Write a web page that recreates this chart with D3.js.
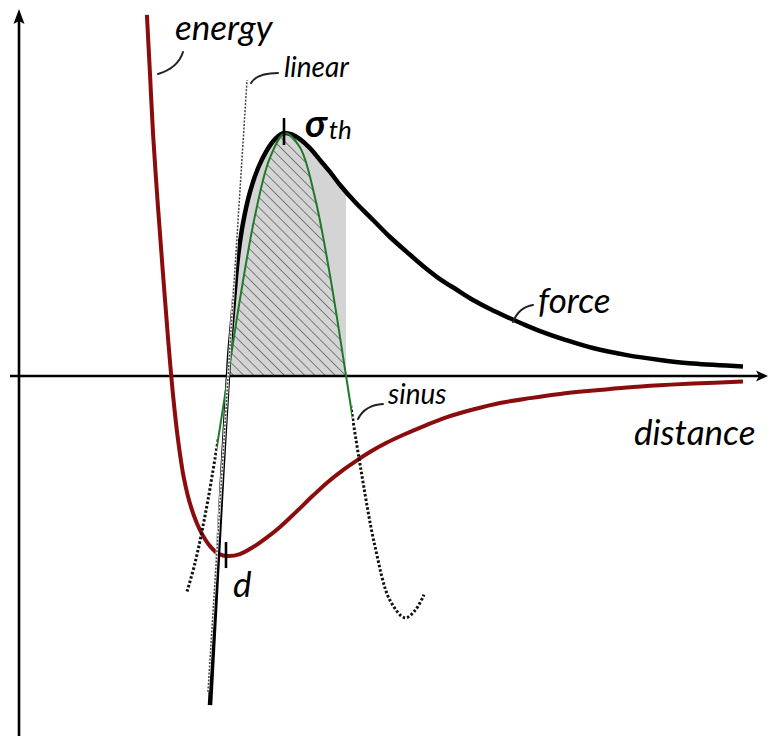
<!DOCTYPE html>
<html>
<head>
<meta charset="utf-8">
<script src="https://cdn.jsdelivr.net/npm/d3@7"></script>
<style>
  html, body { margin: 0; padding: 0; background: #fff; }
  svg { display: block; }
  text { font-family: Lato, "Open Sans", "Noto Sans", sans-serif; font-style: italic; fill: #000; }
</style>
</head>
<body>
<svg id="chart" width="769" height="736"></svg>
<script>
// Separation r is measured in units of the equilibrium distance d,
// stress / energy values in units of the theoretical strength σth.

// Bond energy curve
const energyR = [0.612, 0.627, 0.641, 0.665, 0.689, 0.713, 0.737, 0.761, 0.789, 0.823, 0.866, 0.914, 0.957, 1.000, 1.057, 1.120, 1.182, 1.249, 1.325, 1.407, 1.478, 1.550, 1.612, 1.679, 1.756, 1.837, 1.943, 2.048, 2.172, 2.301, 2.445, 2.589, 2.746, 2.909, 3.067, 3.225, 3.464];
const energyV = [1.486, 1.239, 1.001, 0.696, 0.420, 0.156, -0.078, -0.263, -0.420, -0.539, -0.634, -0.700, -0.733, -0.741, -0.733, -0.704, -0.667, -0.621, -0.560, -0.492, -0.436, -0.387, -0.350, -0.313, -0.276, -0.243, -0.204, -0.169, -0.138, -0.111, -0.091, -0.074, -0.060, -0.047, -0.038, -0.031, -0.023];

// Interatomic force curve
const forceR = [0.914, 0.943, 0.971, 1.000, 1.005, 1.019, 1.033, 1.048, 1.072, 1.105, 1.144, 1.187, 1.225, 1.268, 1.306, 1.344, 1.392, 1.440, 1.488, 1.536, 1.608, 1.694, 1.775, 1.856, 1.933, 2.014, 2.096, 2.172, 2.254, 2.335, 2.411, 2.493, 2.617, 2.746, 2.909, 3.067, 3.225, 3.464];
const forceV = [-1.354, -0.881, -0.428, 0.000, 0.078, 0.218, 0.354, 0.490, 0.630, 0.757, 0.856, 0.930, 0.975, 1.000, 0.994, 0.975, 0.938, 0.889, 0.840, 0.786, 0.716, 0.642, 0.572, 0.510, 0.453, 0.399, 0.354, 0.313, 0.276, 0.243, 0.214, 0.185, 0.148, 0.115, 0.086, 0.066, 0.051, 0.039];

// Sinusoidal approximation of the force
const sinusR = [0.804, 0.842, 0.890, 0.938, 1.000, 1.057, 1.129, 1.201, 1.273, 1.344, 1.416, 1.488, 1.565, 1.632, 1.703, 1.775, 1.847, 1.895, 1.938];
const sinusV = [-0.887, -0.770, -0.575, -0.339, 0.000, 0.314, 0.659, 0.899, 0.999, 0.941, 0.735, 0.414, 0.000, -0.365, -0.700, -0.923, -0.995, -0.965, -0.900];

// Linear (elastic) approximation: tangent at r = d
const linearR = [0.904, 1.091];
const linearV = [-1.300, 1.218];

// Key points
const peakR = 1.268;        // position of σth
const equilibriumR = 1.000; // d
const sinusZeroR = 1.565;   // end of the first sine half-wave
const sinusSolid = [0.947, 1.593]; // range drawn as a solid line

const W = 769, H = 736;
const svg = d3.select("#chart");

const x = d3.scaleLinear().domain([0, 1]).range([19, 228]);
const y = d3.scaleLinear().domain([0, 1]).range([376, 133]);

const zip = (rs, vs) => rs.map((r, i) => ({ r, v: vs[i] }));
const energy = zip(energyR, energyV);
const force = zip(forceR, forceV);
const sinus = zip(sinusR, sinusV);
const linear = zip(linearR, linearV);

const curve = d3.curveCatmullRom.alpha(0.5);
const line = d3.line().x(d => x(d.r)).y(d => y(d.v)).curve(curve);
const area = d3.area().x(d => x(d.r)).y0(y(0)).y1(d => y(d.v)).curve(curve);

const defs = svg.append("defs");

// hatch pattern for the sine half-wave
const pat = defs.append("pattern")
  .attr("id", "hatch")
  .attr("patternUnits", "userSpaceOnUse")
  .attr("width", 7.2).attr("height", 7.2)
  .attr("patternTransform", "rotate(-45)");
pat.append("line")
  .attr("x1", 0).attr("y1", 0).attr("x2", 0).attr("y2", 7.2)
  .attr("stroke", "#333").attr("stroke-width", 1.1);

// region between r = d and the sine zero, above the axis
defs.append("clipPath").attr("id", "work")
  .append("rect")
  .attr("x", x(equilibriumR)).attr("y", 0)
  .attr("width", x(sinusZeroR) - x(equilibriumR)).attr("height", y(0));

// solid / dotted parts of the sine curve
defs.append("clipPath").attr("id", "sinSolid")
  .append("rect")
  .attr("x", x(sinusSolid[0])).attr("y", 0)
  .attr("width", x(sinusSolid[1]) - x(sinusSolid[0])).attr("height", H);
const cpDot = defs.append("clipPath").attr("id", "sinDotted");
cpDot.append("rect").attr("x", 0).attr("y", 0).attr("width", x(sinusSolid[0])).attr("height", H);
cpDot.append("rect").attr("x", x(sinusSolid[1])).attr("y", 0).attr("width", W - x(sinusSolid[1])).attr("height", H);

// shaded work area under the force curve
svg.append("path")
  .datum(force)
  .attr("d", area)
  .attr("fill", "#d4d4d4")
  .attr("clip-path", "url(#work)");

// hatched area under the sine half-wave
svg.append("path")
  .datum(sinus)
  .attr("d", area)
  .attr("fill", "url(#hatch)")
  .attr("clip-path", "url(#work)");

// axes with arrow heads
const ax = svg.append("g").attr("fill", "#000").attr("stroke", "#000");
ax.append("line")
  .attr("x1", 10).attr("y1", y(0)).attr("x2", W - 6).attr("y2", y(0))
  .attr("stroke-width", 2.6);
ax.append("path")
  .attr("stroke", "none")
  .attr("d", `M${W - 1},${y(0)} L${W - 13},${y(0) - 5.5} L${W - 10},${y(0)} L${W - 13},${y(0) + 5.5} Z`);
ax.append("line")
  .attr("x1", x(0)).attr("y1", H).attr("x2", x(0)).attr("y2", 16)
  .attr("stroke-width", 2.6);
ax.append("path")
  .attr("stroke", "none")
  .attr("d", `M${x(0)},9 L${x(0) - 5.5},24 L${x(0)},21 L${x(0) + 5.5},24 Z`);

// energy
svg.append("path")
  .datum(energy)
  .attr("d", line)
  .attr("fill", "none")
  .attr("stroke", "#8a0c0c")
  .attr("stroke-width", 4)
  .attr("stroke-linejoin", "round");

// force
svg.append("path")
  .datum(force)
  .attr("d", line)
  .attr("fill", "none")
  .attr("stroke", "#000")
  .attr("stroke-width", 4.5)
  .attr("stroke-linejoin", "round");

// sine approximation
svg.append("path")
  .datum(sinus)
  .attr("d", line)
  .attr("fill", "none")
  .attr("stroke", "#1f7a28")
  .attr("stroke-width", 2)
  .attr("clip-path", "url(#sinSolid)");
svg.append("path")
  .datum(sinus)
  .attr("d", line)
  .attr("fill", "none")
  .attr("stroke", "#111")
  .attr("stroke-width", 3)
  .attr("stroke-dasharray", "2.5,2")
  .attr("clip-path", "url(#sinDotted)");

// linear approximation
const straight = d3.line().x(d => x(d.r)).y(d => y(d.v));
svg.append("path")
  .datum(linear)
  .attr("d", straight)
  .attr("fill", "none")
  .attr("stroke", "#fff")
  .attr("stroke-width", 2.4);
svg.append("path")
  .datum(linear)
  .attr("d", straight)
  .attr("fill", "none")
  .attr("stroke", "#444")
  .attr("stroke-width", 1.5)
  .attr("stroke-dasharray", "2,1.5");

// tick marks at σth and d
const peakV = forceV[forceR.indexOf(peakR)];
svg.append("line")
  .attr("x1", x(peakR)).attr("x2", x(peakR))
  .attr("y1", y(peakV) - 15).attr("y2", y(peakV) + 12)
  .attr("stroke", "#000").attr("stroke-width", 2.6);
const dV = energyV[energyR.indexOf(equilibriumR)];
svg.append("line")
  .attr("x1", x(equilibriumR) - 2).attr("x2", x(equilibriumR) - 2)
  .attr("y1", y(dV) - 14).attr("y2", y(dV) + 12)
  .attr("stroke", "#000").attr("stroke-width", 2.6);

// leader lines for the curve names
const leaders = [
  "M158,74 Q178,68 183,52",
  "M251,83 Q257,73 278,73",
  "M513,322 Q519,307 533,305",
  "M358,419 Q365,405 383,404"
];
svg.append("g")
  .selectAll("path")
  .data(leaders)
  .join("path")
  .attr("d", d => d)
  .attr("fill", "none")
  .attr("stroke", "#222")
  .attr("stroke-width", 2)
  .attr("stroke-linecap", "round");

// labels
const labels = [
  { t: "energy", px: 175, py: 40, s: 35 },
  { t: "linear", px: 284, py: 77, s: 28 },
  { t: "force", px: 538, py: 313, s: 35 },
  { t: "sinus", px: 388, py: 404, s: 28 },
  { t: "distance", px: 634, py: 445, s: 35 },
  { t: "d", px: 233, py: 597, s: 35 }
];
svg.append("g")
  .selectAll("text")
  .data(labels)
  .join("text")
  .attr("x", d => d.px)
  .attr("y", d => d.py)
  .attr("font-size", d => d.s)
  .text(d => d.t);

const sig = svg.append("text")
  .attr("x", x(peakR) + 21)
  .attr("y", y(peakV) + 4);
sig.append("tspan").attr("font-size", 38).attr("font-weight", 700).text("σ");
sig.append("tspan").attr("font-size", 26).attr("dx", 2).attr("dy", 2).text("th");
</script>
</body>
</html>
